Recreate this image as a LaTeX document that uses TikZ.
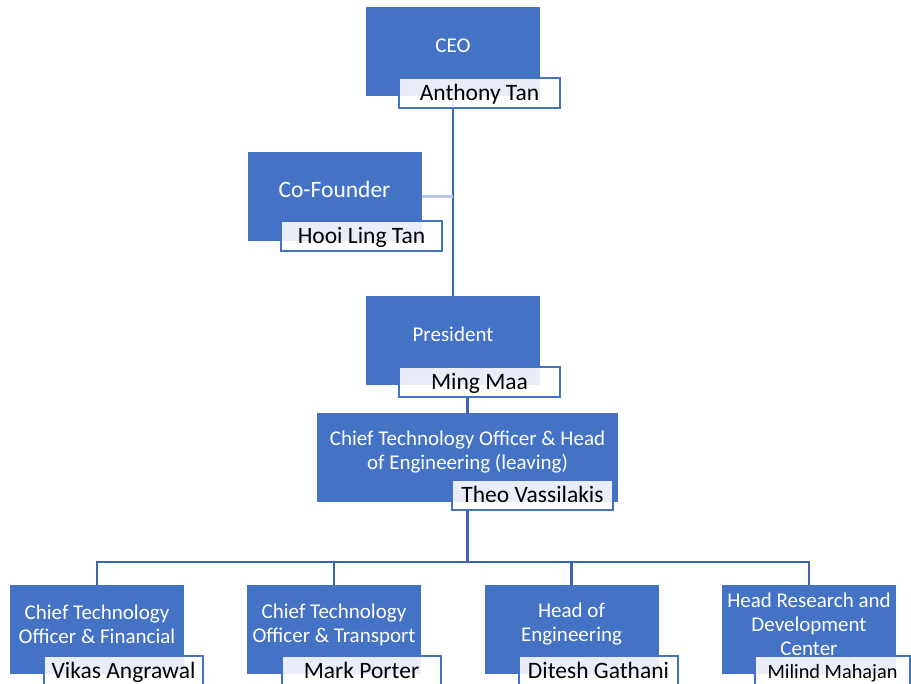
\documentclass[tikz,border=0pt]{standalone}
\usepackage{fontspec}
\setmainfont{Carlito}
\usetikzlibrary{backgrounds}
\definecolor{xanhhop}{HTML}{4472C4}
\definecolor{xanhnoi}{HTML}{3A64B4}
\definecolor{xanhnhat}{HTML}{B4C7E7}
\begin{document}
\begin{tikzpicture}[x=1pt, y=-1pt, line join=miter, font=\fontsize{21}{24}\selectfont]
			\tikzset{
				chucvu/.style={fill=xanhhop, minimum width=174pt, minimum height=89pt, inner sep=0pt},
				tieude/.style={text=white, align=center, inner sep=0pt},
				motdong/.style={text height=13.5pt, text depth=0pt},
				hoten/.style={draw=xanhhop, line width=2pt, fill=white, fill opacity=0.88, text opacity=1,
					minimum width=161pt, minimum height=30pt, inner sep=0pt,
					text height=18pt, text depth=3pt, font=\fontsize{23.5}{26}\selectfont},
				duongnoi/.style={draw=xanhnoi, line width=2.5pt}
			}
			\useasboundingbox (0,0) rectangle (911,684);
			\clip (0,0) rectangle (911,684);
			
			% VẼ CÁC Ô CHỨC VỤ
			\node[chucvu] (ceo) at (453,51.5) {};
			\node[chucvu] (cof) at (334.5,196.5) {};
			\node[chucvu] (pres) at (453,340.5) {};
			\node[chucvu, minimum width=301pt] (cto) at (467.5,457.5) {};
			\node[chucvu] (fin) at (97,629.5) {};
			\node[chucvu] (tra) at (334,629.5) {};
			\node[chucvu] (eng) at (571.5,629.5) {};
			\node[chucvu] (rnd) at (809,629.5) {};
			
			% CHỮ TRONG Ô
			\node[tieude, motdong] (ceot) at (453,45.5) {CEO};
			\node[tieude, motdong, text height=15pt, font=\fontsize{23.5}{26}\selectfont] (coft) at (334.5,190.5) {Co-Founder};
			\node[tieude, motdong] (prest) at (453,334.5) {President};
			\node[tieude] (ctot) at (467.5,452.5) {Chief Technology Officer \& Head\\of Engineering (leaving)};
			\node[tieude] (fint) at (97,624.5) {Chief Technology\\Officer \& Financial};
			\node[tieude] (trat) at (334,624.5) {Chief Technology\\Officer \& Transport};
			\node[tieude] (engt) at (571.5,624.5) {Head of\\Engineering};
			\node[tieude] (rndt) at (809,624) {Head Research and\\Development\\Center};
			
			% Ô HỌ TÊN
			\node[hoten] (ceon) at (479.5,93.5) {Anthony Tan};
			\node[hoten] (cofn) at (361.5,236.5) {Hooi Ling Tan};
			\node[hoten] (presn) at (479.5,382) {Ming Maa};
			\node[hoten] (cton) at (532.5,495) {Theo Vassilakis};
			\node[hoten, minimum width=159pt] (finn) at (123.5,671) {Vikas Angrawal};
			\node[hoten, minimum width=159pt] (tran) at (361.5,671) {Mark Porter};
			\node[hoten, minimum width=159pt] (engn) at (598.5,671) {Ditesh Gathani};
			\node[hoten, minimum width=155pt, font=\fontsize{20.3}{24}\selectfont] (rndn) at (832.5,671) {Milind Mahajan};
			
			% ĐƯỜNG NỐI (nằm dưới các ô)
			\begin{pgfonlayer}{background}
				\coordinate (bus) at (467.5,562);
				\draw[duongnoi] (ceo.south) -- (pres.north);
				\draw[duongnoi, draw=xanhnhat] (cof.east) -- (cof.east -| ceo.south);
				\draw[duongnoi] (presn.south -| cto.north) -- (cto.north);
				\draw[duongnoi] (cton.south -| bus) -- (bus);
				\draw[duongnoi] (fin.north) -- (fin.north |- bus) -- (rnd.north |- bus) -- (rnd.north);
				\draw[duongnoi] (tra.north) -- (tra.north |- bus);
				\draw[duongnoi] (eng.north) -- (eng.north |- bus);
			\end{pgfonlayer}
		\end{tikzpicture}
\end{document}
